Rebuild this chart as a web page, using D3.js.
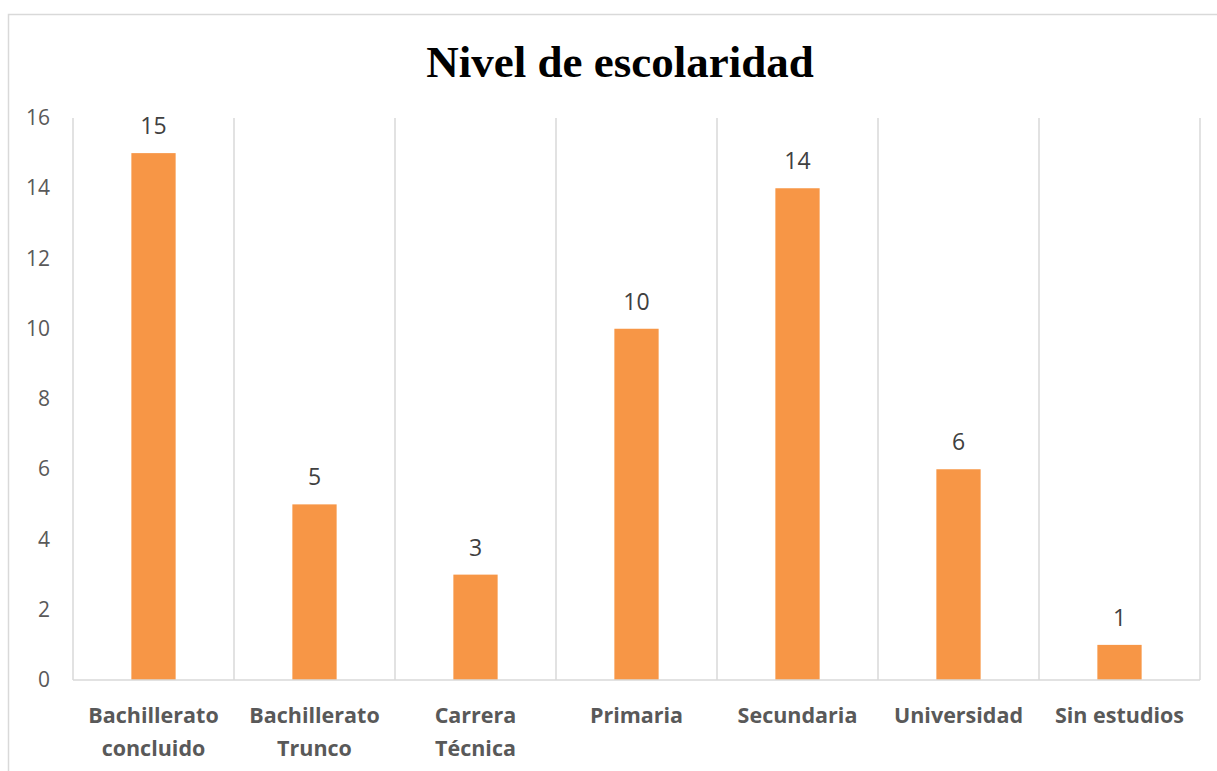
<!DOCTYPE html>
<html><head><meta charset="utf-8">
<script src="https://cdn.jsdelivr.net/npm/d3@7"></script>
<style>body{margin:0;background:#fff}svg{display:block}</style>
</head><body>
<svg id="c" width="1217" height="771"></svg>
<script>
const categories = [["Bachillerato","concluido"],["Bachillerato","Trunco"],["Carrera","Técnica"],["Primaria"],["Secundaria"],["Universidad"],["Sin estudios"]];
const values = [15,5,3,10,14,6,1];
const yTicks = [0,2,4,6,8,10,12,14,16];
const title = "Nivel de escolaridad";

const svg = d3.select("#c");
svg.append("rect").attr("x",8.5).attr("y",14.5).attr("width",1230).attr("height",800)
  .attr("fill","#fff").attr("stroke","#d9d9d9").attr("stroke-width",1.5);

const m = {l:73, r:1200, t:118, b:680};
const names = categories.map(d=>d.join(" "));
const x = d3.scaleBand().domain(names).range([m.l,m.r]).paddingInner(0).paddingOuter(0);
const y = d3.scaleLinear().domain([0,16]).range([m.b,m.t]);

// vertical category gridlines
const edges = names.map(n=>x(n)).concat([m.r]);
svg.append("g").selectAll("line").data(edges).join("line")
  .attr("x1",d=>d).attr("x2",d=>d).attr("y1",m.t).attr("y2",m.b)
  .attr("stroke","#d9d9d9").attr("stroke-width",1.5);

// bars
const bw = x.bandwidth()*0.275;
svg.append("g").selectAll("rect").data(values).join("rect")
  .attr("x",(d,i)=>x(names[i])+x.bandwidth()/2-bw/2)
  .attr("y",d=>y(d)).attr("width",bw).attr("height",d=>y(0)-y(d))
  .attr("fill","#f79646");

// data labels
svg.append("g").selectAll("text").data(values).join("text")
  .attr("x",(d,i)=>x(names[i])+x.bandwidth()/2).attr("y",d=>y(d)-19)
  .attr("text-anchor","middle").attr("font-family","Open Sans, sans-serif").attr("font-size",23)
  .attr("fill","#404040").text(d=>d);

// x axis line
svg.append("line").attr("x1",m.l).attr("x2",m.r).attr("y1",m.b).attr("y2",m.b)
  .attr("stroke","#d9d9d9").attr("stroke-width",1.5);

// y axis labels
const ya = svg.append("g").attr("transform",`translate(${m.l},0)`)
  .call(d3.axisLeft(y).tickValues(yTicks).tickSize(0).tickPadding(23));
ya.select(".domain").remove();
ya.selectAll("text").attr("font-family","Open Sans, sans-serif").attr("font-size",21).attr("fill","#595959");

// category labels
const cg = svg.append("g");
categories.forEach((lines,i)=>{
  const t = cg.append("text").attr("x",x(names[i])+x.bandwidth()/2).attr("y",723)
    .attr("text-anchor","middle").attr("font-family","Open Sans, sans-serif").attr("font-weight","bold")
    .attr("font-size",21.5).attr("fill","#595959");
  lines.forEach((l,j)=>t.append("tspan").attr("x",x(names[i])+x.bandwidth()/2).attr("dy",j?33:0).text(l));
});

// title
svg.append("text").attr("x",620).attr("y",77).attr("text-anchor","middle")
  .attr("font-family","Liberation Serif, serif").attr("font-weight","bold").attr("font-size",45)
  .attr("fill","#000").text(title);
</script>
</body></html>
